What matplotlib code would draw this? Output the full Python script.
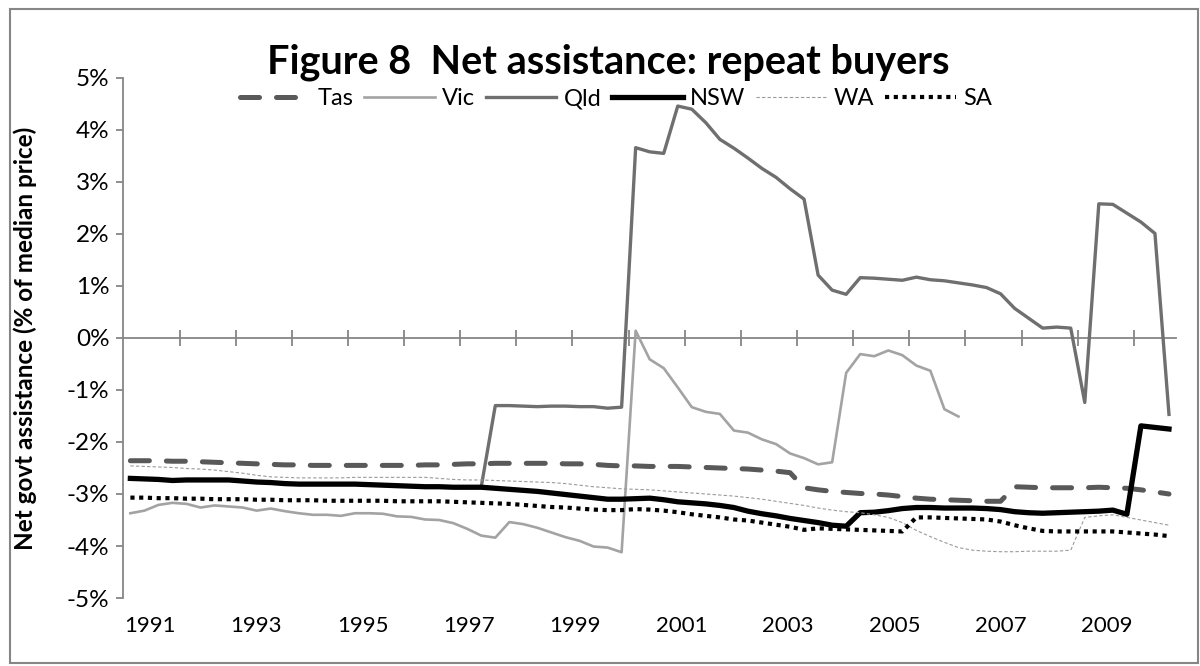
import numpy as np
import matplotlib
matplotlib.use('Agg')
import matplotlib.pyplot as plt
from matplotlib.patches import Rectangle

plt.rcParams['font.family'] = ['Lato', 'DejaVu Sans']

# quarterly series, 1991 Q1 .. 2009 Q3 (% of median price)
tas = [-2.36, -2.36, -2.36, -2.37, -2.37, -2.38, -2.39, -2.40, -2.41, -2.42,
       -2.43, -2.44, -2.44, -2.45, -2.45, -2.45, -2.45, -2.45, -2.45, -2.45,
       -2.45, -2.44, -2.44, -2.43, -2.42, -2.42, -2.41, -2.41, -2.41, -2.41,
       -2.41, -2.42, -2.42, -2.43, -2.45, -2.46, -2.46, -2.47, -2.47, -2.47,
       -2.48, -2.49, -2.50, -2.51, -2.52, -2.54, -2.56, -2.59, -2.88, -2.92,
       -2.95, -2.97, -2.99, -3.00, -3.02, -3.05, -3.08, -3.10, -3.11, -3.12,
       -3.13, -3.14, -3.14, -2.86, -2.87, -2.88, -2.88, -2.88, -2.88, -2.87,
       -2.88, -2.89, -2.92, -2.96, -3.00]

vic = [-3.37, -3.32, -3.21, -3.17, -3.19, -3.26, -3.22, -3.24, -3.26, -3.32,
       -3.28, -3.33, -3.37, -3.40, -3.40, -3.42, -3.37, -3.37, -3.38, -3.43,
       -3.44, -3.49, -3.50, -3.56, -3.67, -3.80, -3.84, -3.54, -3.58, -3.65,
       -3.74, -3.83, -3.90, -4.01, -4.03, -4.12, 0.14, -0.41, -0.58, -0.95,
       -1.33, -1.42, -1.46, -1.78, -1.82, -1.95, -2.04, -2.22, -2.31, -2.43,
       -2.39, -0.67, -0.31, -0.35, -0.24, -0.33, -0.53, -0.63, -1.37, -1.51,
       np.nan, np.nan, np.nan, np.nan, np.nan, np.nan, np.nan, np.nan, np.nan, np.nan,
       np.nan, np.nan, np.nan, np.nan, np.nan]

qld = [-2.70, -2.71, -2.72, -2.74, -2.73, -2.73, -2.73, -2.73, -2.75, -2.77,
       -2.78, -2.80, -2.81, -2.81, -2.81, -2.81, -2.81, -2.82, -2.83, -2.84,
       -2.85, -2.86, -2.86, -2.87, -2.87, -2.86, -1.30, -1.30, -1.31, -1.32,
       -1.31, -1.31, -1.32, -1.32, -1.35, -1.33, 3.66, 3.58, 3.55, 4.46,
       4.40, 4.14, 3.82, 3.65, 3.46, 3.26, 3.09, 2.87, 2.67, 1.21,
       0.92, 0.84, 1.16, 1.15, 1.13, 1.11, 1.17, 1.12, 1.10, 1.06,
       1.02, 0.97, 0.85, 0.57, 0.38, 0.19, 0.21, 0.19, -1.24, 2.58,
       2.57, 2.40, 2.23, 2.01, -1.47]

nsw = [-2.70, -2.71, -2.72, -2.74, -2.73, -2.73, -2.73, -2.73, -2.75, -2.77,
       -2.78, -2.80, -2.81, -2.81, -2.81, -2.81, -2.81, -2.82, -2.83, -2.84,
       -2.85, -2.86, -2.86, -2.87, -2.87, -2.87, -2.89, -2.91, -2.93, -2.95,
       -2.98, -3.01, -3.04, -3.07, -3.10, -3.10, -3.09, -3.08, -3.11, -3.15,
       -3.17, -3.19, -3.22, -3.26, -3.33, -3.38, -3.42, -3.47, -3.51, -3.55,
       -3.60, -3.62, -3.36, -3.35, -3.32, -3.28, -3.26, -3.26, -3.27, -3.27,
       -3.27, -3.28, -3.30, -3.34, -3.36, -3.37, -3.36, -3.35, -3.34, -3.33,
       -3.31, -3.39, -1.69, -1.72, -1.75]

wa = [-2.46, -2.47, -2.48, -2.49, -2.51, -2.52, -2.54, -2.57, -2.60, -2.64,
      -2.67, -2.68, -2.69, -2.69, -2.69, -2.69, -2.68, -2.68, -2.68, -2.68,
      -2.68, -2.68, -2.70, -2.72, -2.73, -2.73, -2.74, -2.75, -2.76, -2.77,
      -2.78, -2.80, -2.83, -2.86, -2.88, -2.90, -2.91, -2.92, -2.94, -2.96,
      -2.98, -3.00, -3.02, -3.04, -3.07, -3.10, -3.14, -3.18, -3.22, -3.27,
      -3.31, -3.34, -3.36, -3.40, -3.45, -3.55, -3.70, -3.82, -3.93, -4.03,
      -4.08, -4.10, -4.11, -4.11, -4.10, -4.10, -4.10, -4.08, -3.45, -3.42,
      -3.40, -3.45, -3.50, -3.55, -3.60]

sa = [-3.07, -3.07, -3.08, -3.08, -3.09, -3.09, -3.10, -3.10, -3.10, -3.11,
      -3.11, -3.12, -3.12, -3.12, -3.13, -3.13, -3.13, -3.13, -3.13, -3.14,
      -3.14, -3.14, -3.14, -3.15, -3.16, -3.17, -3.18, -3.19, -3.21, -3.23,
      -3.25, -3.26, -3.28, -3.30, -3.31, -3.31, -3.29, -3.30, -3.32, -3.35,
      -3.39, -3.42, -3.45, -3.49, -3.51, -3.55, -3.59, -3.63, -3.69, -3.66,
      -3.67, -3.68, -3.69, -3.70, -3.71, -3.72, -3.45, -3.45, -3.46, -3.47,
      -3.48, -3.49, -3.53, -3.60, -3.66, -3.71, -3.72, -3.72, -3.72, -3.72,
      -3.72, -3.74, -3.76, -3.78, -3.81]

year_labels = ['1991', '1993', '1995', '1997', '1999',
               '2001', '2003', '2005', '2007', '2009']

x = np.arange(len(nsw))
axis_grey = '#868686'

fig = plt.figure(figsize=(12, 6.66), dpi=100)
ax = fig.add_axes([0.1028, 0.1021, 0.8772, 0.7808])

ax.plot(x, tas, color='#595959', lw=3.6, linestyle=(0, (3.8, 3.4)),
        dash_capstyle='round', label='Tas')
ax.plot(x, vic, color='#a3a3a3', lw=1.9, label='Vic')
ax.plot(x, qld, color='#6f6f6f', lw=2.4, label='Qld')
ax.plot(x, nsw, color='black', lw=3.8, label='NSW')
ax.plot(x, wa, color='#9a9a9a', lw=0.8, linestyle=(0, (3, 2)), label='WA')
ax.plot(x, sa, color='black', lw=3.0, linestyle=(0, (1, 1.1)), label='SA')

ax.set_xlim(-0.5, len(nsw) - 0.5)
ax.set_ylim(-5, 5)
ax.set_yticks(range(-5, 6))
ax.set_yticklabels([f'{v}%' for v in range(-5, 6)])
# year labels spread evenly from the first to the last labelled year
ax.set_xticks(np.linspace(1.4, 69.6, len(year_labels)))
ax.set_xticklabels(year_labels)

for side in ['top', 'right', 'bottom']:
    ax.spines[side].set_visible(False)
ax.spines['left'].set_color(axis_grey)
ax.spines['left'].set_linewidth(1.3)
ax.tick_params(axis='y', direction='out', length=5, width=1.3, color=axis_grey,
               labelsize=17.5, pad=5)
ax.tick_params(axis='x', length=0, labelsize=16, pad=13)

# horizontal axis line through 0% with year ticks crossing it
zero_axis = ax.secondary_xaxis(0.5)
zero_axis.set_xticks(np.arange(3.5, len(nsw), 4))
zero_axis.tick_params(direction='inout', length=12, width=1.3, color=axis_grey,
                      labeltop=False, labelbottom=False)
for s in zero_axis.spines.values():
    s.set_color(axis_grey)
    s.set_linewidth(1.3)

ax.set_ylabel('Net govt assistance (% of median price)', fontsize=17.5,
              fontweight='bold')
ax.yaxis.set_label_coords(-0.082, 0.5)

fig.text(0.507, 0.907, 'Figure 8  Net assistance: repeat buyers', ha='center',
         va='center', fontsize=28.5, fontweight='bold')

fig.legend(loc='center', bbox_to_anchor=(0.513, 0.852), ncol=6, frameon=False,
           fontsize=17, handlelength=3.0, handletextpad=0.3, columnspacing=0.45)

# chart area border
fig.patches.append(Rectangle((0.008, 0.004), 0.99, 0.982, transform=fig.transFigure,
                             fill=False, edgecolor=axis_grey, linewidth=1.5))

fig.savefig('out.png', dpi=100)
